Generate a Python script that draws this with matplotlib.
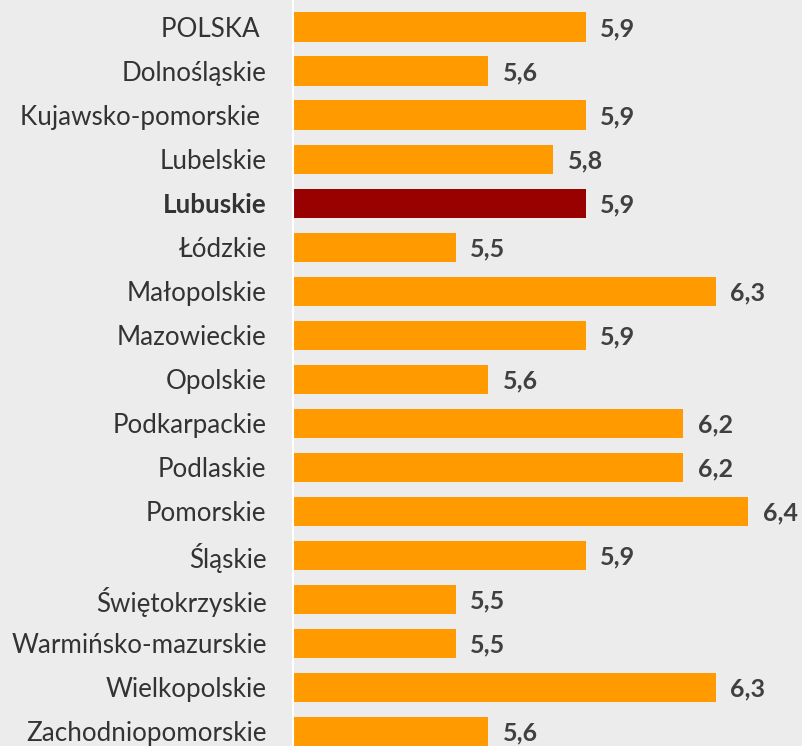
import matplotlib.pyplot as plt

regions = ["POLSKA ", "Dolnośląskie", "Kujawsko-pomorskie ", "Lubelskie", "Lubuskie",
           "Łódzkie", "Małopolskie", "Mazowieckie", "Opolskie", "Podkarpackie",
           "Podlaskie", "Pomorskie", "Śląskie", "Świętokrzyskie",
           "Warmińsko-mazurskie", "Wielkopolskie", "Zachodniopomorskie"]
values = [5.9, 5.6, 5.9, 5.8, 5.9, 5.5, 6.3, 5.9, 5.6, 6.2, 6.2, 6.4, 5.9, 5.5, 5.5, 6.3, 5.6]
highlight = "Lubuskie"

plt.rcParams['font.family'] = ['Lato', 'DejaVu Sans']

fig = plt.figure(figsize=(8.03, 7.46), dpi=100, facecolor='#ececec')
ax = fig.add_axes([293 / 803, 0, 1 - 293 / 803, 1])
ax.set_facecolor('#ececec')

colors = ['#990000' if r == highlight else '#ff9a00' for r in regions]
ypos = list(range(len(regions)))
ax.barh(ypos, [v - 5.0 for v in values], left=5.0, height=0.66, color=colors)

for y, v in zip(ypos, values):
    ax.text(v + 0.045, y + 0.05, f"{v:.1f}".replace('.', ','), va='center', ha='left',
            fontsize=18, fontweight='bold', color='#404040')

ax.set_xlim(5.0, 6.569)
ax.set_ylim(16.34, -0.614)
ax.set_yticks(ypos)
ax.set_yticklabels(regions, fontsize=18.7, color='#333333')
for lbl in ax.get_yticklabels():
    if lbl.get_text() == highlight:
        lbl.set_fontweight('bold')
ax.tick_params(axis='y', length=0, pad=19)
ax.set_xticks([])
for s in ['top', 'right', 'bottom']:
    ax.spines[s].set_visible(False)
ax.spines['left'].set_color('white')
ax.spines['left'].set_linewidth(1.5)

fig.savefig('out.png', dpi=100, facecolor=fig.get_facecolor())
